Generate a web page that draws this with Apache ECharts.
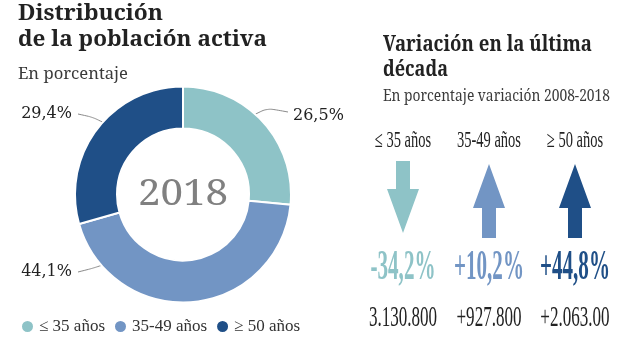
<!DOCTYPE html>
<html><head><meta charset="utf-8">
<script src="https://cdn.jsdelivr.net/npm/echarts@6/dist/echarts.min.js"></script>
<style>html,body{margin:0;padding:0;background:#fff}#chart{width:620px;height:349px}</style>
</head><body><div id="chart"></div>
<script>
// ---- data ----
const categories = ['≤ 35 años', '35-49 años', '≥ 50 años'];
const share2018 = [26.5, 44.1, 29.4];
const variation = [-34.2, 10.2, 44.8];
const countLabels = ['3.130.800', '+927.800', '+2.063.00'];
const centerLabel = '2018';
const colors = ['#8ec3c7', '#7295c4', '#1f4f87'];

// ---- helpers ----
const mctx = document.createElement('canvas').getContext('2d');
function fitScale(text, font, w) { mctx.font = font; return w / mctx.measureText(text).width; }
function pct(v, signed) {
  const s = Math.abs(v).toFixed(1).replace('.', ',') + '%';
  if (!signed) return s;
  return (v < 0 ? '-' : '+') + s;
}
function txt(text, x, y, font, w, fill, align) {
  return { type: 'text', x: x, y: y, scaleX: w ? fitScale(text, font, w) : 1, silent: true,
    style: { text: text, font: font, fill: fill, align: align || 'left', verticalAlign: 'middle' } };
}

const TITLE = 'bold 22px "Noto Serif"';
const SUB = '17px "Noto Serif"';
const HEAD = '23px "Liberation Serif"';
const PCT = 'bold 43px "Liberation Serif"';
const CNT = '30px "Liberation Serif"';
const headScale = fitScale('35-49 años', HEAD, 64);
const pctScale = fitScale('+10,2%', PCT, 70);
const cntScale = fitScale('+927.800', CNT, 65);

const PIE_C = [183, 194.5], PIE_R = [66, 108];
function polar(deg, r) { // deg: screen angle, 0 = right, clockwise positive (y down)
  const a = deg * Math.PI / 180;
  return [PIE_C[0] + r * Math.cos(a), PIE_C[1] + r * Math.sin(a)];
}

const chart = echarts.init(document.getElementById('chart'), null, { renderer: 'canvas' });
chart.setOption({
  animation: false,
  backgroundColor: '#fff',
  color: colors,
  legend: {
    left: 15, top: 313, icon: 'circle', itemWidth: 13, itemHeight: 13, itemGap: 8,
    selectedMode: false,
    data: categories,
    textStyle: { fontFamily: 'Liberation Serif', fontSize: 17, color: '#333' }
  },
  grid: { left: 360, width: 258, top: 160, height: 78 },
  xAxis: { type: 'category', data: categories, show: false },
  yAxis: { type: 'value', min: -1, max: 1, show: false },
  graphic: [
    txt('Distribución', 18, 14, TITLE, 145, '#222'),
    txt('de la población activa', 18, 40, TITLE, 249, '#222'),
    txt('En porcentaje', 18, 74, SUB, 110, '#3a3a3a'),
    txt('Variación en la última', 383, 45, TITLE, 209, '#222'),
    txt('década', 383, 70, TITLE, 65, '#222'),
    txt('En porcentaje variación 2008-2018', 383, 96, SUB, 227, '#3a3a3a'),
    txt(centerLabel, PIE_C[0], 194, '37px "Noto Serif"', 90, '#808080', 'center')
  ],
  series: [
    {
      type: 'pie',
      center: PIE_C,
      radius: PIE_R,
      startAngle: 90,
      clockwise: true,
      avoidLabelOverlap: false,
      emphasis: { scale: false },
      itemStyle: { borderColor: '#fff', borderWidth: 2 },
      data: categories.map((c, i) => ({ name: c, value: share2018[i] })),
      label: {
        show: true, position: 'outside',
        formatter: p => pct(p.value, false),
        fontFamily: 'DejaVu Serif', fontSize: 16, color: '#222'
      },
      labelLine: { show: true, smooth: 0.3, lineStyle: { color: '#8a8a8a', width: 1 } },
      labelLayout: function (p) {
        const i = p.dataIndex;
        if (i === 0) {
          const s = polar(-48, PIE_R[1]);
          return { x: 293, y: 116, align: 'left', verticalAlign: 'middle',
            labelLinePoints: [s, [s[0] + 12, s[1] - 6], [288, 112]] };
        }
        if (i === 1) {
          const s = polar(139, PIE_R[1]);
          return { x: 72, y: 272, align: 'right', verticalAlign: 'middle',
            labelLinePoints: [s, [s[0] - 9, s[1] + 3], [78, 272]] };
        }
        const s = polar(222, PIE_R[1]);
        return { x: 72, y: 114, align: 'right', verticalAlign: 'middle',
          labelLinePoints: [s, [s[0] - 10, s[1] - 5], [78, 114]] };
      }
    },
    {
      type: 'custom',
      xAxisIndex: 0, yAxisIndex: 0,
      silent: true,
      data: variation.map((v, i) => [i, v]),
      renderItem: function (params, api) {
        const i = api.value(0), v = api.value(1);
        const c = api.coord([i, 0]);
        const x = c[0], mid = c[1];
        const col = colors[params.dataIndex];
        const hw = 16, sw = 7, hl = 44;
        let pts;
        if (v >= 0) {
          const tip = mid - 35, bot = mid + 39;
          pts = [[x, tip], [x + hw, tip + hl], [x + sw, tip + hl], [x + sw, bot], [x - sw, bot], [x - sw, tip + hl], [x - hw, tip + hl]];
        } else {
          const top = mid - 38, tip = mid + 34;
          pts = [[x - sw, top], [x + sw, top], [x + sw, tip - hl], [x + hw, tip - hl], [x, tip], [x - hw, tip - hl], [x - sw, tip - hl]];
        }
        return {
          type: 'group',
          children: [
            { type: 'polygon', shape: { points: pts }, style: { fill: col } },
            { type: 'text', x: x, y: mid - 58.5, scaleX: headScale,
              style: { text: categories[i], font: HEAD, fill: '#222', align: 'center', verticalAlign: 'middle' } },
            { type: 'text', x: x, y: mid + 68.5, scaleX: pctScale,
              style: { text: pct(v, true), font: PCT, fill: col, align: 'center', verticalAlign: 'middle' } },
            { type: 'text', x: x, y: mid + 119, scaleX: cntScale,
              style: { text: countLabels[i], font: CNT, fill: '#222', align: 'center', verticalAlign: 'middle' } }
          ]
        };
      }
    }
  ]
});
</script></body></html>
